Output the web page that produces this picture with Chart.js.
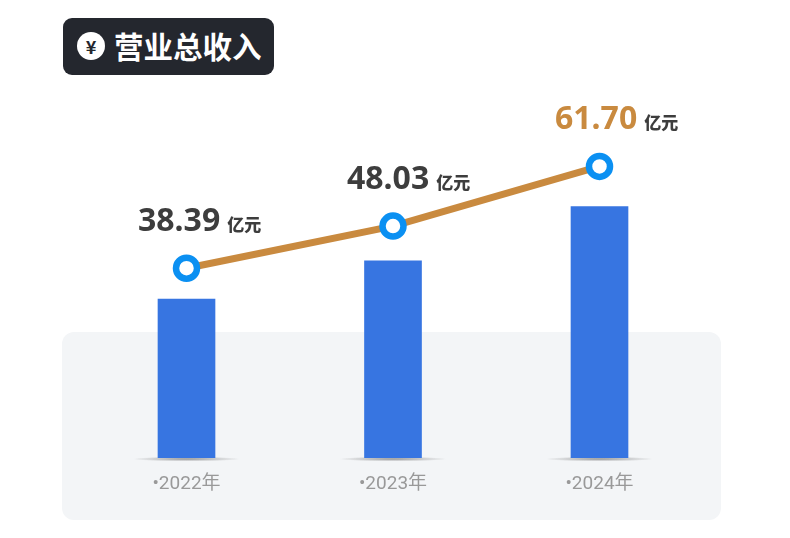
<!DOCTYPE html>
<html lang="zh">
<head>
<meta charset="utf-8">
<title>营业总收入</title>
<script src="https://cdn.jsdelivr.net/npm/chart.js@4/dist/chart.umd.js"></script>
<style>
  html, body { margin: 0; background: #fff; }
  #page { position: relative; width: 790px; height: 538px; overflow: hidden; font-family: "Noto Sans CJK SC", sans-serif; }
  #panel { position: absolute; left: 62px; top: 332px; width: 659px; height: 188px; background: #f3f5f7; border-radius: 12px; }
  #badge { position: absolute; left: 63px; top: 18px; width: 211px; height: 57px; background: #24272e; border-radius: 9px; color: #fff; }
  #badge .icon { position: absolute; left: 14px; top: 14px; width: 28px; height: 28px; line-height: 28px; border-radius: 50%; background: #fff; color: #24272e; text-align: center; font-size: 18px; font-weight: 700; }
  #badge .name { position: absolute; left: 51px; top: 0; line-height: 55px; font-size: 29.5px; font-weight: 700; white-space: nowrap; }
  canvas { position: absolute; left: 0; top: 0; }
</style>
</head>
<body>
<div id="page">
  <div id="panel"></div>
  <div id="badge"><span class="icon">¥</span><span class="name">营业总收入</span></div>
  <canvas id="revenueChart" width="790" height="538"></canvas>
</div>
<script>
const title = '营业总收入';
const categories = ['2022年', '2023年', '2024年'];
const revenue = [38.39, 48.03, 61.70];
const unit = '亿元';

const BLUE = '#3775e1';
const GOLD = '#c98a3f';
const RING = '#0b90f2';
const DARK = '#3d3d3d';
const FONT = '"Noto Sans CJK SC", sans-serif';

// soft shadow under each bar
const barShadow = {
  id: 'barShadow',
  beforeDatasetsDraw(chart) {
    const ctx = chart.ctx;
    chart.getDatasetMeta(0).data.forEach(bar => {
      ctx.save();
      ctx.translate(bar.x, bar.base + 1);
      ctx.scale(1, 0.045);
      const g = ctx.createRadialGradient(0, 0, 0, 0, 0, 54);
      g.addColorStop(0, 'rgba(110,110,110,0.7)');
      g.addColorStop(1, 'rgba(110,110,110,0)');
      ctx.fillStyle = g;
      ctx.beginPath();
      ctx.arc(0, 0, 54, 0, Math.PI * 2);
      ctx.fill();
      ctx.restore();
    });
  }
};

// big number + small unit above each line point
const valueLabels = {
  id: 'valueLabels',
  afterDatasetsDraw(chart) {
    const ctx = chart.ctx;
    const nudge = [-48.5, -46, -44.5];
    chart.getDatasetMeta(1).data.forEach((pt, i) => {
      const text = revenue[i].toFixed(2);
      const x = pt.x + nudge[i];
      const y = pt.y - 46.5;
      ctx.save();
      ctx.textAlign = 'left';
      ctx.textBaseline = 'middle';
      ctx.font = '700 32px "Noto Sans", ' + FONT;
      ctx.fillStyle = i === revenue.length - 1 ? GOLD : DARK;
      ctx.fillText(text, x, y);
      const w = ctx.measureText(text).width;
      ctx.font = '900 17px ' + FONT;
      ctx.fillStyle = DARK;
      ctx.fillText(unit, x + w + 7, y + 2.5);
      ctx.restore();
    });
  }
};

new Chart(document.getElementById('revenueChart'), {
  data: {
    labels: categories,
    datasets: [
      {
        type: 'bar',
        label: title,
        data: revenue,
        yAxisID: 'y',
        base: -1.64,
        backgroundColor: BLUE,
        barThickness: 57,
        order: 2
      },
      {
        type: 'line',
        label: title,
        data: revenue,
        yAxisID: 'y2',
        borderColor: GOLD,
        borderWidth: 7,
        pointRadius: 10.5,
        pointHoverRadius: 10.5,
        pointBorderWidth: 6.5,
        pointBorderColor: RING,
        pointBackgroundColor: '#fff',
        tension: 0,
        clip: false,
        order: 1
      }
    ]
  },
  options: {
    responsive: false,
    animation: false,
    layout: { padding: { left: 83.25, right: 87.25, top: 58, bottom: 0 } },
    plugins: { legend: { display: false }, tooltip: { enabled: false } },
    scales: {
      x: {
        type: 'category',
        grid: { display: false },
        border: { display: false },
        afterFit(scale) { scale.height = 80; },
        ticks: {
          padding: 7,
          color: '#999999',
          font: { family: 'Roboto, ' + FONT, size: 19 },
          maxRotation: 0,
          callback(value) { return '•' + this.getLabelForValue(value); }
        }
      },
      y: { display: false, min: -1.64, max: 99.12 },
      y2: { display: false, min: -5.03, max: 86.5 }
    }
  },
  plugins: [barShadow, valueLabels]
});
</script>
</body>
</html>
